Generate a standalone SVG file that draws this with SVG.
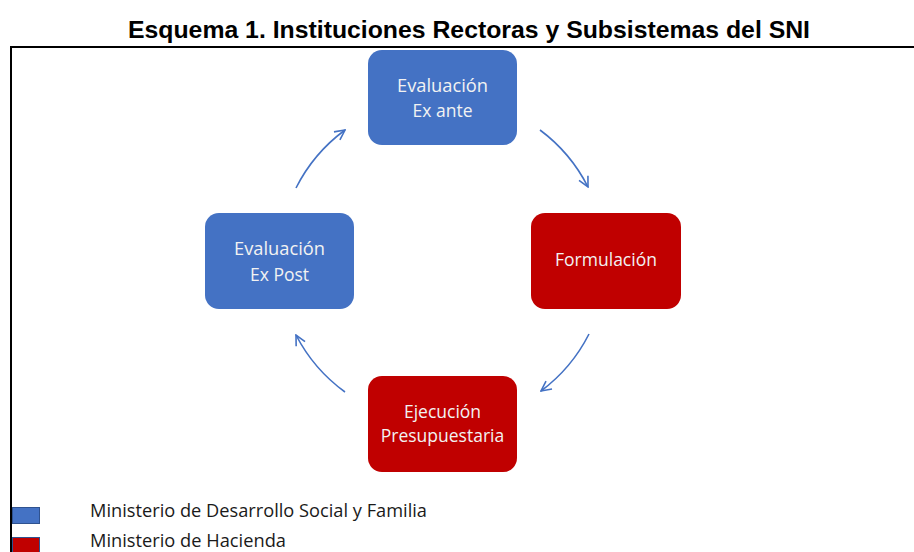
<svg xmlns="http://www.w3.org/2000/svg" width="914" height="552" viewBox="0 0 914 552">
<style>
.title{font-family:"Liberation Sans",Arial,sans-serif;font-weight:bold;font-size:24px;fill:#000}
.box-blue{fill:#4472C4}
.box-red{fill:#C00000}
.lbl{font-family:"Open Sans","Liberation Sans",sans-serif;font-size:17.5px;fill:#f2f2f2;text-anchor:middle}
.leg{font-family:"Open Sans","Liberation Sans",sans-serif;font-size:17.5px;fill:#1a1a1a}
.arc{fill:none;stroke:#4472C4;stroke-width:1.6}
</style>
<defs>
<marker id="ah" viewBox="0 0 12 12" refX="11" refY="6" markerWidth="12" markerHeight="12" markerUnits="userSpaceOnUse" orient="auto">
<path d="M1,1 L11,6 L1,11" fill="none" stroke="#4472C4" stroke-width="1.6"/>
</marker>
</defs>
<rect width="914" height="552" fill="#fff"/>
<text class="title" x="469" y="38" text-anchor="middle" textLength="682" lengthAdjust="spacingAndGlyphs">Esquema 1. Instituciones Rectoras y Subsistemas del SNI</text>
<g id="frame">
<line x1="10" y1="47" x2="914" y2="47" stroke="#000" stroke-width="2"/>
<line x1="11" y1="46" x2="11" y2="552" stroke="#000" stroke-width="2"/>
</g>
<g id="connectors">
<path class="arc" d="M540,130 A163,163 0 0 1 588,187" marker-end="url(#ah)"/>
<path class="arc" d="M589,334 A163,163 0 0 1 541,391" marker-end="url(#ah)"/>
<path class="arc" d="M345,392 A163,163 0 0 1 296,335" marker-end="url(#ah)"/>
<path class="arc" d="M296,188 A163,163 0 0 1 345,130" marker-end="url(#ah)"/>
</g>
<g id="exante">
<rect class="box-blue" x="368" y="50" width="149" height="95" rx="14"/>
<text class="lbl" x="442.5" y="92" textLength="91" lengthAdjust="spacingAndGlyphs">Evaluación</text>
<text class="lbl" x="442.5" y="117">Ex ante</text>
</g>
<g id="formulacion">
<rect class="box-red" x="531" y="213" width="150" height="96" rx="14"/>
<text class="lbl" x="606" y="266">Formulación</text>
</g>
<g id="ejecucion">
<rect class="box-red" x="368" y="376" width="149" height="96" rx="14"/>
<text class="lbl" x="442.5" y="418">Ejecución</text>
<text class="lbl" x="442.5" y="442">Presupuestaria</text>
</g>
<g id="expost">
<rect class="box-blue" x="205" y="213" width="149" height="96" rx="14"/>
<text class="lbl" x="279.5" y="255" textLength="91" lengthAdjust="spacingAndGlyphs">Evaluación</text>
<text class="lbl" x="279.5" y="281">Ex Post</text>
</g>
<g id="legend">
<rect x="12.5" y="507.5" width="27" height="16" fill="#4472C4" stroke="#2F528F" stroke-width="1"/>
<rect x="12.5" y="537.5" width="27" height="16" fill="#C00000" stroke="#2F528F" stroke-width="1"/>
<text class="leg" x="90" y="517" textLength="337" lengthAdjust="spacingAndGlyphs">Ministerio de Desarrollo Social y Familia</text>
<text class="leg" x="90" y="547" textLength="196" lengthAdjust="spacingAndGlyphs">Ministerio de Hacienda</text>
</g>
</svg>
